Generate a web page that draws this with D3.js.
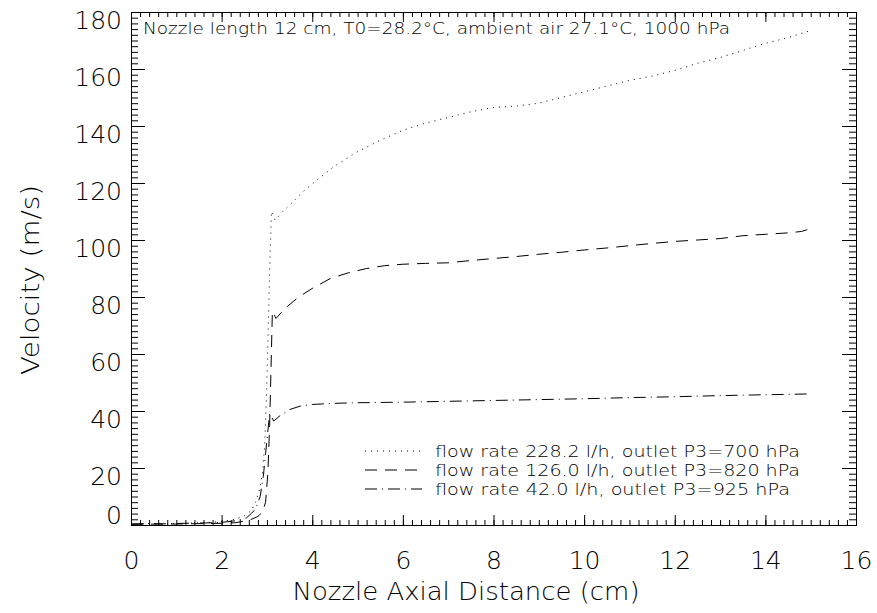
<!DOCTYPE html>
<html>
<head>
<meta charset="utf-8">
<script src="https://cdn.jsdelivr.net/npm/d3@7"></script>
<style>
  html, body { margin: 0; padding: 0; background: #fff; overflow: hidden; }
  #graph { display: block; }
  svg text { font-family: "DejaVu Sans", "Liberation Sans", sans-serif; font-weight: 200; fill: #000; }
</style>
</head>
<body>
<svg id="graph" width="877" height="613"></svg>
<script>
// tick values
const x_ticks = [0, 2, 4, 6, 8, 10, 12, 14, 16];
const y_ticks = [0, 20, 40, 60, 80, 100, 120, 140, 160, 180];

const series_labels = [
  "flow rate 228.2 l/h, outlet P3=700 hPa",
  "flow rate 126.0 l/h, outlet P3=820 hPa",
  "flow rate 42.0 l/h, outlet P3=925 hPa",
];
const note_text = "Nozzle length 12 cm, T0=28.2\u00b0C, ambient air 27.1\u00b0C, 1000 hPa";

// 228.2 l/h (dotted)
const dist_228 = [0, 0.4, 0.8, 1.2, 1.6, 2.0, 2.3, 2.5, 2.65, 2.75, 2.83, 2.9, 2.95, 2.99, 3.03, 3.07, 3.1,
  3.18, 3.35, 3.55, 3.8, 4.1, 4.5, 5.0, 5.5, 6.0, 6.5, 7.0, 7.5, 8.0, 8.5, 9.0, 9.5, 10.0, 10.5,
  11.0, 11.5, 12.0, 12.5, 13.0, 13.5, 14.0, 14.5, 15.0];
const vel_228 = [0.3, 0.4, 0.5, 0.6, 0.8, 1.2, 2.0, 3.2, 5.0, 8.0, 12, 18, 28, 45, 70, 95, 110,
  107, 110, 113, 117, 121, 126, 131, 135, 138.5, 141, 143, 145, 146.5, 147, 148, 150, 152, 154,
  156, 157.5, 159.5, 162, 164, 166.5, 169, 171, 173.5];

// 126.0 l/h (dashed)
const dist_126 = [0, 0.4, 0.8, 1.2, 1.6, 2.0, 2.3, 2.6, 2.8, 2.9, 2.97, 3.02, 3.06, 3.09, 3.12,
  3.2, 3.4, 3.7, 4.0, 4.4, 4.8, 5.2, 5.6, 6.0, 6.5, 7.0, 7.5, 8.0, 8.5, 9.0, 9.5, 10.0, 10.5,
  11.0, 11.5, 12.0, 12.5, 13.0, 13.5, 14.0, 14.5, 14.8, 15.0];
const vel_126 = [0.2, 0.3, 0.3, 0.4, 0.5, 0.6, 0.8, 1.6, 3.0, 4.5, 8, 18, 35, 55, 75,
  72.5, 76, 80, 83, 86.5, 88.5, 90, 91, 91.5, 91.8, 92, 92.8, 93.5, 94.2, 95, 95.7, 96.5, 97.2,
  98, 98.8, 99.5, 100, 100.5, 101.5, 102, 102.5, 103, 104];

// 42.0 l/h (dash-dot)
const dist_42 = [0, 0.4, 0.8, 1.2, 1.6, 2.0, 2.3, 2.55, 2.75, 2.85, 2.92, 2.97, 3.02, 3.06, 3.15,
  3.3, 3.5, 3.75, 4.0, 4.5, 5.0, 6.0, 7.0, 8.0, 9.0, 10.0, 11.0, 12.0, 13.0, 14.0, 15.0];
const vel_42 = [0.4, 0.5, 0.4, 0.6, 0.7, 0.9, 1.5, 2.5, 5.5, 10, 17, 25, 33, 39, 36.5,
  38.5, 40.5, 41.8, 42.3, 42.7, 42.9, 43.1, 43.4, 43.7, 44.0, 44.3, 44.7, 45.0, 45.4, 45.7, 46.0];

const series = [
  { dist: dist_228, vel: vel_228, dash: "1,5" },
  { dist: dist_126, vel: vel_126, dash: "12,8" },
  { dist: dist_42, vel: vel_42, dash: "12,5,1,5" },
];

const margin = { left: 131, right: 21, top: 12, bottom: 88 };
const svg = d3.select("#graph");
const width = +svg.attr("width");
const height = +svg.attr("height");

const x = d3.scaleLinear().domain([0, 16]).range([margin.left, width - margin.right]);
const y = d3.scaleLinear().domain([0, 180]).range([height - margin.bottom, margin.top]);

const x_minor = d3.range(0, 16.001, 0.2).map((d) => +d.toFixed(1));
const y_minor = d3.range(0, 180.001, 2);

// drop the domain path, give every tick line all four coordinates
function style_axis(g) {
  g.select(".domain").remove();
  g.selectAll(".tick line").each(function () {
    const l = d3.select(this);
    ["x1", "y1", "x2", "y2"].forEach((a) => {
      if (l.attr(a) == null) l.attr(a, 0);
    });
  }).attr("stroke", "#000").attr("stroke-width", 1);
}

// frame
svg.append("rect")
  .attr("x", x(0) + 0.5).attr("y", y(180) + 0.5)
  .attr("width", x(16) - x(0)).attr("height", y(0) - y(180))
  .attr("fill", "none").attr("stroke", "#000");

// minor ticks, all four sides
svg.append("g").attr("transform", `translate(0,${y(0)})`)
  .call(d3.axisBottom(x).tickValues(x_minor).tickSize(-5).tickFormat(() => "")).call(style_axis);
svg.append("g").attr("transform", `translate(0,${y(180)})`)
  .call(d3.axisTop(x).tickValues(x_minor).tickSize(-5).tickFormat(() => "")).call(style_axis);
svg.append("g").attr("transform", `translate(${x(0)},0)`)
  .call(d3.axisLeft(y).tickValues(y_minor).tickSize(-7).tickFormat(() => "")).call(style_axis);
svg.append("g").attr("transform", `translate(${x(16)},0)`)
  .call(d3.axisRight(y).tickValues(y_minor).tickSize(-7).tickFormat(() => "")).call(style_axis);

// major ticks
const x_axis = svg.append("g").attr("transform", `translate(0,${y(0)})`)
  .call(d3.axisBottom(x).tickValues(x_ticks).tickSize(-10).tickFormat(d3.format("d")))
  .call(style_axis);
x_axis.selectAll(".tick text").attr("y", 26).attr("dy", "0.71em")
  .attr("font-size", 25).attr("font-family", null);

svg.append("g").attr("transform", `translate(0,${y(180)})`)
  .call(d3.axisTop(x).tickValues(x_ticks).tickSize(-10).tickFormat(() => ""))
  .call(style_axis);

const y_axis = svg.append("g").attr("transform", `translate(${x(0)},0)`)
  .call(d3.axisLeft(y).tickValues(y_ticks).tickSize(-14).tickFormat(d3.format("d")))
  .call(style_axis);
y_axis.selectAll(".tick text").attr("x", -9).attr("dy", (d) => (d === 0 ? "-0.08em" : "0.65em"))
  .attr("font-size", 25).attr("font-family", null);

svg.append("g").attr("transform", `translate(${x(16)},0)`)
  .call(d3.axisRight(y).tickValues(y_ticks).tickSize(-14).tickFormat(() => ""))
  .call(style_axis);

// titles
svg.append("text").attr("x", 466).attr("y", 600).attr("text-anchor", "middle")
  .attr("font-size", 25).attr("textLength", 347).attr("lengthAdjust", "spacingAndGlyphs")
  .text("Nozzle Axial Distance (cm)");

svg.append("text").attr("transform", "translate(39,280) rotate(-90)").attr("text-anchor", "middle")
  .attr("font-size", 25).attr("textLength", 190).attr("lengthAdjust", "spacingAndGlyphs")
  .text("Velocity (m/s)");

svg.append("text").attr("x", 143).attr("y", 34)
  .attr("font-size", 16).attr("textLength", 587).attr("lengthAdjust", "spacingAndGlyphs")
  .text(note_text);

// curves
const line_gen = d3.line().x((d) => x(d[0])).y((d) => y(d[1]));
series.forEach((s) => {
  svg.append("path")
    .datum(d3.zip(s.dist, s.vel))
    .attr("fill", "none").attr("stroke", "#000").attr("stroke-width", 1)
    .attr("stroke-dasharray", s.dash)
    .attr("d", line_gen);
});

// legend
const legend_rows = [451, 470, 489];
series.forEach((s, i) => {
  svg.append("line")
    .attr("x1", 365).attr("x2", 422).attr("y1", legend_rows[i]).attr("y2", legend_rows[i])
    .attr("stroke", "#000").attr("stroke-dasharray", s.dash);
  svg.append("text").attr("x", 435).attr("y", legend_rows[i] + 6)
    .attr("font-size", 16)
    .attr("textLength", i === 2 ? 355 : 365).attr("lengthAdjust", "spacingAndGlyphs")
    .text(series_labels[i]);
});
</script>
</body>
</html>
